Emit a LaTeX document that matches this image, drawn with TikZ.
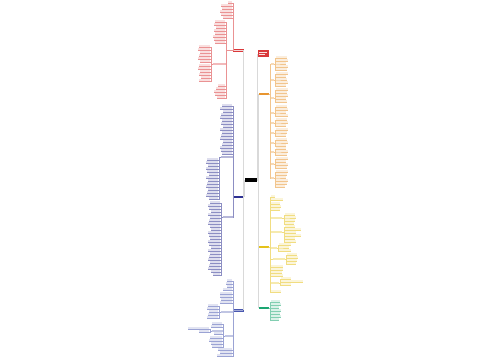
\documentclass[tikz,border=0pt]{standalone}
\usetikzlibrary{calc}
\definecolor{mred}{HTML}{D9383A}
\definecolor{morange}{HTML}{E8952F}
\definecolor{mblue}{HTML}{2E3192}
\definecolor{mblueb}{HTML}{4A58B0}
\definecolor{myellow}{HTML}{E5C21A}
\definecolor{mgreen}{HTML}{1BA672}
\tikzset{
  hub/.style={rectangle,inner sep=0,minimum width=12pt,minimum height=4.5pt,fill=black},
  topic/.style={rectangle,inner sep=0,minimum width=10pt,minimum height=2.6pt,fill=#1},
  sub/.style={rectangle,inner sep=0,minimum height=1.6pt,fill=#1!35},
  leaf/.style={rectangle,inner sep=0,minimum height=1.5pt,fill=#1!16},
  link/.style={draw=#1!55,line width=.25pt},
  trunk/.style={draw=black!15,line width=.4pt}
}
% leaves hanging right / left of a spine
\newcommand{\rleaves}[5]{%
  \foreach \yy/\ww [count=\k] in {#5}{%
    \node[leaf=#1,minimum width=\ww pt,anchor=south west] (#4-\k) at (#3+1,\yy) {};
    \draw[link=#1] (#2) -| (#3,\yy) -- (#4-\k.south east);
  }}
\newcommand{\lleaves}[5]{%
  \foreach \yy/\ww [count=\k] in {#5}{%
    \node[leaf=#1,minimum width=\ww pt,anchor=south east] (#4-\k) at (#3-1,\yy) {};
    \draw[link=#1] (#2) -| (#3,\yy) -- (#4-\k.south west);
  }}
\begin{document}
\begin{tikzpicture}[x=1pt,y=-1pt]
  \fill[white] (0,0) rectangle (500,360);
  \useasboundingbox (0,0) rectangle (500,360);

  \node[hub] (hub) at (251,180) {};

  % main topics
  \node[topic=mred!20,draw=mred,line width=.3pt] (L1) at (238.5,50) {};
  \node[topic=mblue] (L2) at (238.5,197) {};
  \node[topic=mblueb!50,draw=mblueb,line width=.3pt] (L3) at (238.5,310) {};
  \node[rectangle,inner sep=0,minimum width=11pt,minimum height=7pt,fill=mred] (R0) at (263,53.5) {};
  \node[topic=morange] (R1) at (263.5,94) {};
  \node[topic=myellow] (R2) at (263.5,247) {};
  \node[topic=mgreen] (R3) at (263.5,308) {};
  \fill[white!85!mred] ($(R0.west)+(1.5,-1.6)$) rectangle ++(8,.7);
  \fill[white!85!mred] ($(R0.west)+(1.5,.8)$) rectangle ++(6,.7);

  \foreach \t in {L1,L2,L3}
    \draw[trunk] (hub.west) -| (\t.east);
  \foreach \t in {R0,R1,R2,R3}
    \draw[trunk] (hub.east) -| (\t.west);

  % red, top left
  \lleaves{mred}{L1.west}{233.5}{La}{3/4,6/11,9/10,12/12,15/11,18/9}
  \lleaves{mred}{L1.west}{226.5}{Lb}{22/10,25/11,28/9,31/11,34/10,37/12,40/11,43/10,86/7,89/9,92/11,95/10,98/8}
  \node[sub=mred,minimum width=13pt] (L1d) at (219,64) {};
  \draw[link=mred] (L1.west) -| (226.5,64) -- (L1d.east);
  \lleaves{mred}{L1d.west}{211.5}{Ld}{47/11,50/12,53/10,56/11,59/12,62/10,66/11,69/12,72/10,75/11,78/9,81/11}

  % blue, left
  \lleaves{mblue}{L2.west}{233.5}{Ma}{106/10,109/12,112/9,115/11,118/12,121/10,124/11,127/9,130/12,133/10,136/11,139/12,142/9,145/10,148/12,151/11,154/10}
  \node[sub=mblue,minimum width=12pt] (S1) at (226.5,157) {};
  \node[sub=mblue,minimum width=10pt] (S2) at (227.5,217) {};
  \draw[link=mblue] (L2.west) -| (233.5,157) -- (S1.east);
  \draw[link=mblue] (L2.west) -| (233.5,217) -- (S2.east);
  \lleaves{mblue}{S1.west}{219.5}{Mb}{160/11,163/12,166/10,169/12,172/11,175/9,178/12,181/10,184/11,187/12,190/10,193/11,196/12,199/9}
  \lleaves{mblue}{S2.west}{221.5}{Mc}{203/10,206/12,209/11,212/9,215/12,218/10,221/11,224/12,227/10,230/9,233/12,236/11,239/10,242/12,245/11,248/9,251/12,254/10,257/11,260/12,263/10,266/11,269/12,272/9,275/7}

  % blue, bottom left
  \lleaves{mblueb}{L3.west}{233.5}{Na}{281/5,284/6,287/5,290/9,294/12,297/12,300/11,303/12,350/14,353/12,356/15}
  \node[sub=mblueb,minimum width=12pt] (T1) at (226.5,312) {};
  \node[sub=mblueb,minimum width=8pt] (T2) at (228.5,336) {};
  \draw[link=mblueb] (L3.west) -| (233.5,312) -- (T1.east);
  \draw[link=mblueb] (L3.west) -| (233.5,336) -- (T2.east);
  \lleaves{mblueb}{T1.west}{219.5}{Nb}{306/10,309/11,312/9,315/10,318/11}
  \lleaves{mblueb}{T2.west}{223.5}{Nc}{324/10,327/11,334/8,338/12,341/13,344/11,347/10}
  \node[sub=mblueb,minimum width=11pt] (T3) at (217,331) {};
  \draw[link=mblueb] (T2.west) -| (223.5,331) -- (T3.east);
  \lleaves{mblueb}{T3.west}{210.5}{Nd}{329/21,332/10}

  % orange, right
  \foreach \s/\y in {o1/64,o2/80,o3/98,o4/113,o5/123,o6/133,o7/143,o8/152,o9/164,o10/178}{
    \node[sub=morange,minimum width=3pt] (\s) at (272.5,\y) {};
    \draw[link=morange] (R1.east) -| (270,\y) -- (\s.west);
  }
  \rleaves{morange}{o1.east}{275}{Oa}{58/11,61/12,64/10,67/12,70/11}
  \rleaves{morange}{o2.east}{275}{Ob}{74/12,77/10,80/11,83/12,86/10}
  \rleaves{morange}{o3.east}{275}{Oc}{90/12,93/11,96/12,99/10,102/11}
  \rleaves{morange}{o4.east}{275}{Od}{107/11,110/12,113/10,116/12}
  \rleaves{morange}{o5.east}{275}{Oe}{120/11,123/12,126/10}
  \rleaves{morange}{o6.east}{275}{Of}{130/12,133/11,136/10}
  \rleaves{morange}{o7.east}{275}{Og}{140/11,143/12,146/10}
  \rleaves{morange}{o8.east}{275}{Oh}{149/10,152/12,155/11}
  \rleaves{morange}{o9.east}{275}{Oi}{159/12,162/10,165/12,168/11}
  \rleaves{morange}{o10.east}{275}{Oj}{172/12,175/11,178/10,181/12,184/11,187/9}

  % yellow, right
  \rleaves{myellow}{R2.east}{270}{Ya}{197/4,200/12,204/9,207/10,210/9,267/12,270/12,273/11,276/12,292/10}
  \node[sub=myellow,minimum width=11pt] (y1) at (276.5,218) {};
  \node[sub=myellow,minimum width=11pt] (y2) at (276.5,232) {};
  \node[sub=myellow,minimum width=6pt] (y3) at (274,248) {};
  \node[sub=myellow,minimum width=12pt] (y4) at (279,259) {};
  \node[sub=myellow,minimum width=8pt] (y5) at (275,283) {};
  \foreach \s in {y1,y2,y3,y4,y5}
    \draw[link=myellow] (R2.east) -| (270,0 |- \s.west) -- (\s.west);
  \rleaves{myellow}{y1.east}{284}{Yb}{215/10,218/11,221/10,224/9}
  \rleaves{myellow}{y2.east}{284}{Yc}{227/10,230/16,233/11,236/16,239/10,242/11}
  \rleaves{myellow}{y3.east}{278}{Yd}{245/12,248/10,251/12}
  \rleaves{myellow}{y4.east}{286}{Ye}{255/10,258/11,261/10,264/9}
  \rleaves{myellow}{y5.east}{280}{Yf}{279/10,282/22,285/10}

  % green, right
  \rleaves{mgreen}{R3.east}{270}{Ga}{302/9,305/10,308/8,311/10,314/9,317/10,320/8}
\end{tikzpicture}
\end{document}
